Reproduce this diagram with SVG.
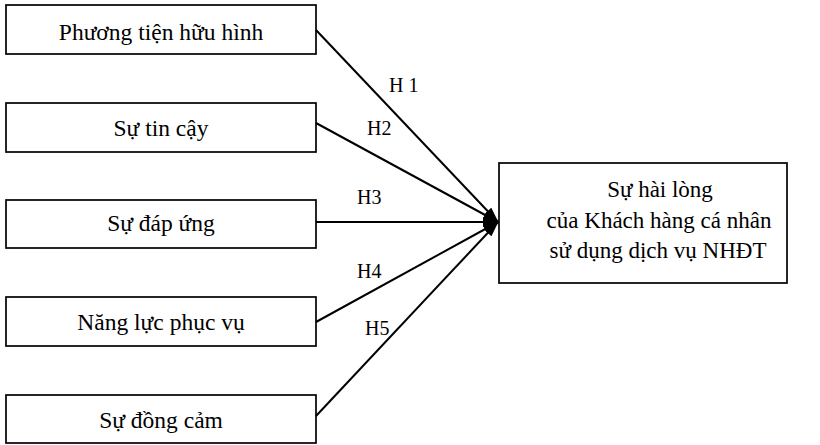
<svg xmlns="http://www.w3.org/2000/svg" width="820" height="445" viewBox="0 0 820 445">
<style>
.box{fill:#fff;stroke:#000;stroke-width:1.7}
.t{font-family:'Liberation Serif','DejaVu Serif',serif;font-size:23.5px;fill:#000;text-anchor:middle}
.tr{font-family:'Liberation Serif','DejaVu Serif',serif;font-size:23px;fill:#000;text-anchor:middle}
.lbl{font-family:'Liberation Serif','DejaVu Serif',serif;font-size:20px;fill:#000}
.c{stroke:#000;stroke-width:2;fill:none;marker-end:url(#ah)}
</style>
<defs>
<marker id="ah" viewBox="0 0 16 10" refX="15" refY="5" markerWidth="8" markerHeight="5" orient="auto" markerUnits="strokeWidth">
<path d="M0,0 L16,5 L0,10 Z" fill="#000"/>
</marker>
</defs>
<rect width="820" height="445" fill="#fff"/>
<g id="n1"><rect class="box" x="6" y="5" width="310" height="49"/><text class="t" x="161" y="40">Phương tiện hữu hình</text></g>
<g id="n2"><rect class="box" x="6" y="103" width="310" height="49"/><text class="t" x="161" y="136">Sự tin cậy</text></g>
<g id="n3"><rect class="box" x="6" y="200" width="310" height="48"/><text class="t" x="161" y="231">Sự đáp ứng</text></g>
<g id="n4"><rect class="box" x="6" y="297" width="310" height="49"/><text class="t" x="161" y="330">Năng lực phục vụ</text></g>
<g id="n5"><rect class="box" x="6" y="395" width="310" height="48"/><text class="t" x="161" y="428">Sự đồng cảm</text></g>
<g id="target"><rect class="box" x="499" y="163" width="288" height="120"/>
<text class="tr" x="660" y="197">Sự hài lòng</text>
<text class="tr" x="659" y="228">của Khách hàng cá nhân</text>
<text class="tr" x="658" y="258">sử dụng dịch vụ NHĐT</text></g>
<g id="connectors">
<line class="c" x1="316" y1="30" x2="498" y2="222"/>
<line class="c" x1="316" y1="123" x2="498" y2="222"/>
<line class="c" x1="316" y1="222" x2="498" y2="222"/>
<line class="c" x1="316" y1="322" x2="498" y2="222"/>
<line class="c" x1="316" y1="416" x2="498" y2="222"/>
<text class="lbl" x="389" y="92">H 1</text>
<text class="lbl" x="367" y="135">H2</text>
<text class="lbl" x="357" y="204">H3</text>
<text class="lbl" x="357" y="278">H4</text>
<text class="lbl" x="365" y="335">H5</text>
</g>
</svg>
